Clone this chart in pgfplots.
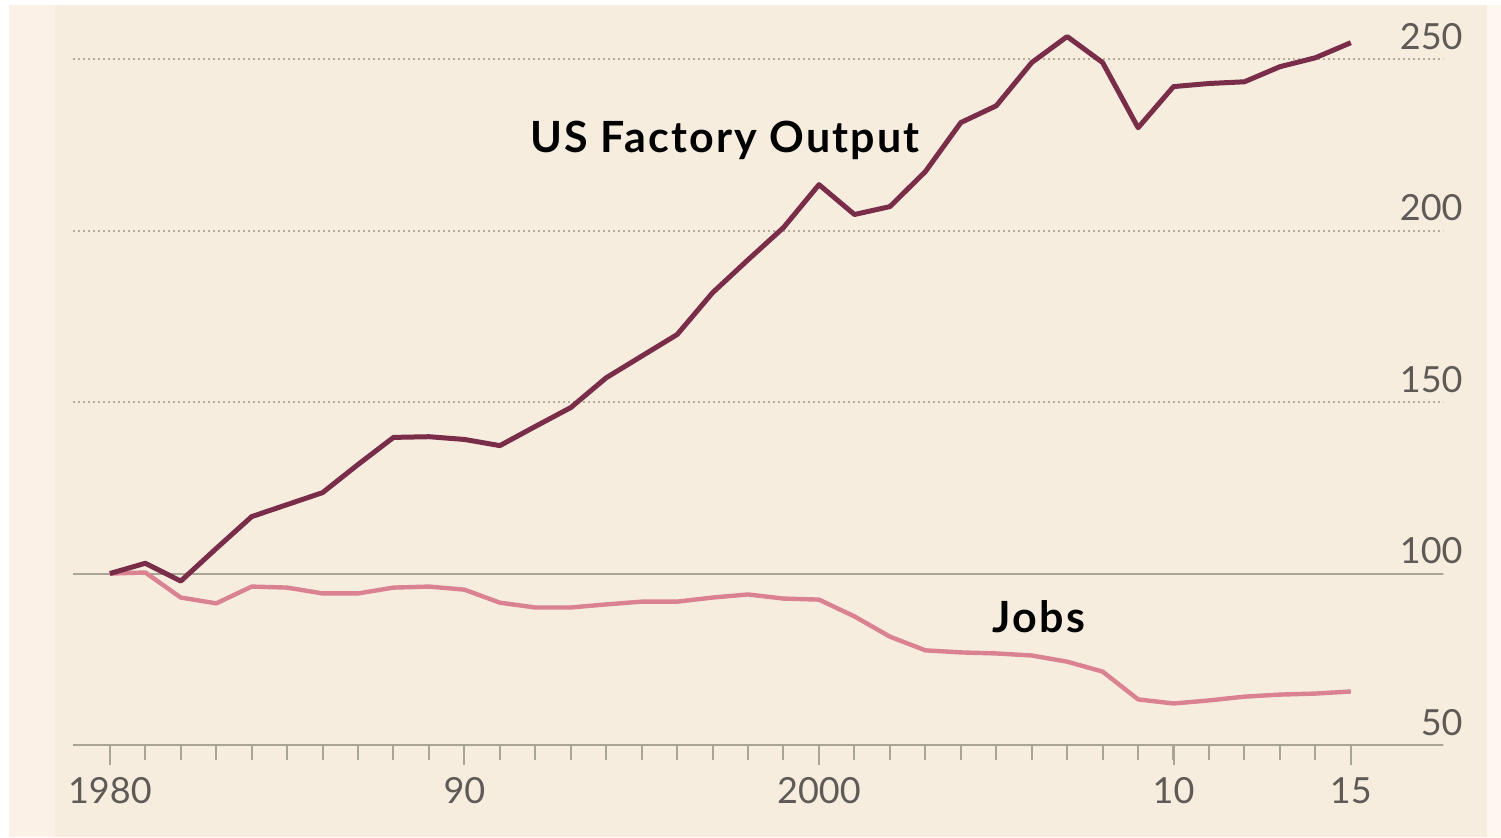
\documentclass[border=0pt]{standalone}
\usepackage{fontspec}
\setmainfont{Lato}
\usepackage{pgfplots}
\usepackage{pgfplotstable}
\pgfplotsset{compat=1.18}
\definecolor{panel}{HTML}{F6EDDF}
\definecolor{strip}{HTML}{FCF1E6}
\definecolor{outcol}{HTML}{7A2D48}
\definecolor{jobcol}{HTML}{DA8192}
\definecolor{gridc}{HTML}{B3AB9B}
\definecolor{axc}{HTML}{A8A596}
\definecolor{labc}{HTML}{5E5A55}

\pgfplotstableread{
year output
1980 100.0
1981 103.0
1982 97.8
1983 107.3
1984 116.6
1985 120.1
1986 123.6
1987 131.8
1988 139.7
1989 139.9
1990 139.1
1991 137.3
1992 142.9
1993 148.4
1994 157.1
1995 163.4
1996 169.7
1997 181.9
1998 191.5
1999 200.9
2000 213.4
2001 204.7
2002 207.0
2003 217.2
2004 231.5
2005 236.4
2006 249.0
2007 256.6
2008 249.0
2009 230.0
2010 242.0
2011 242.9
2012 243.4
2013 247.8
2014 250.4
2015 254.8
}\outputdata

\pgfplotstableread{
year jobs
1980 100.0
1981 100.3
1982 93.0
1983 91.3
1984 96.2
1985 95.9
1986 94.2
1987 94.2
1988 95.9
1989 96.2
1990 95.3
1991 91.5
1992 90.1
1993 90.1
1994 91.0
1995 91.8
1996 91.8
1997 93.0
1998 93.9
1999 92.7
2000 92.4
2001 87.5
2002 81.6
2003 77.6
2004 77.0
2005 76.7
2006 76.1
2007 74.3
2008 71.4
2009 63.3
2010 62.1
2011 63.0
2012 64.1
2013 64.7
2014 65.0
2015 65.6
}\jobsdata

\begin{document}
\begin{tikzpicture}
% background (axis box lower-left at origin; 0.5pt per reference pixel)
\fill[white] (-36.5pt,-46pt) rectangle (714pt,372.5pt);
\fill[strip] (-32pt,-46pt) rectangle (-9pt,370pt);
\fill[panel] (-9pt,-46pt) rectangle (707pt,370pt);
\fill[strip!60!white] (707pt,-46pt) rectangle (714pt,370pt);
\begin{axis}[
  at={(0,0)}, anchor=south west,
  scale only axis,
  width=685pt, height=363.5pt,
  xmin=1978.96, xmax=2017.6,
  ymin=50, ymax=262,
  axis line style={draw=none},
  clip=false,
  xtick={1980,1990,2000,2010,2015},
  xticklabels={1980,90,2000,10,15},
  minor xtick={1981,1982,...,2014},
  xtick pos=bottom,
  tick align=outside,
  major tick length=10pt,
  minor tick length=7.5pt,
  every tick/.style={axc, line width=1pt},
  xticklabel style={font=\fontsize{18}{20}\selectfont, text=labc, anchor=north, inner sep=0pt, yshift=-6pt},
  ytick={50,100,150,200,250},
  yticklabels={50,100,150,200,250},
  yticklabel pos=right,
  ytick style={draw=none},
  yticklabel style={font=\fontsize{18}{20}\selectfont, text=labc, anchor=south east, inner sep=0pt, yshift=4.5pt},
  ymajorgrids,
  grid style={gridc, line width=1pt, dash pattern=on 0.8pt off 1.7pt},
]
\draw[axc, line width=1pt] (axis cs:1978.96,100) -- (axis cs:2017.6,100);
\draw[axc, line width=1pt] (axis cs:1978.96,50) -- (axis cs:2017.6,50);
\addplot[jobcol, line width=2.2pt, line join=round] table[x=year, y=jobs] {\jobsdata};
\addplot[outcol, line width=2.5pt, line join=round] table[x=year, y=output] {\outputdata};
\node[anchor=base, font=\fontsize{21.5}{24}\selectfont\bfseries\addfontfeature{LetterSpace=5}] at (axis cs:1997.35,222.7) {US Factory Output};
\node[anchor=base, font=\fontsize{21.5}{24}\selectfont\bfseries\addfontfeature{LetterSpace=5}] at (axis cs:2006.2,82.8) {Jobs};
\end{axis}
\end{tikzpicture}
\end{document}
